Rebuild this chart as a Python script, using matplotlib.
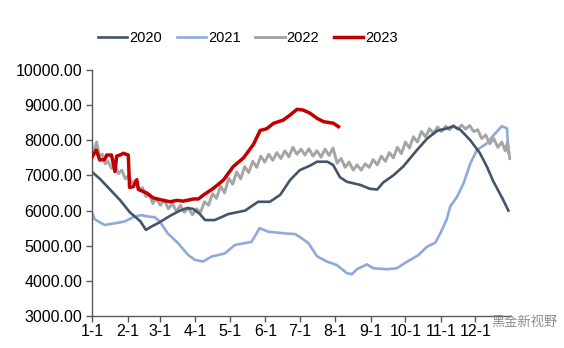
import matplotlib
matplotlib.use("Agg")
import matplotlib.pyplot as plt
import numpy as np

plt.rcParams['font.family'] = ['Liberation Sans', 'DejaVu Sans']

# ---- data (day of year, value) ----
days_2020 = [0, 7, 15.7, 24.4, 33, 42, 47, 52, 57.5, 68, 76.7, 82.8, 88, 94, 98.5, 107, 118.6,
             133.4, 144.7, 155, 164, 172.6, 181, 190, 196, 205, 210, 216, 222, 233.7, 242,
             248.5, 253.7, 262.4, 271, 283, 292, 300.8, 309.5, 314.7, 320.8, 329.6, 338,
             344, 349.6, 357.5, 362.7]
vals_2020 = [7100, 6900, 6600, 6300, 5950, 5700, 5450, 5550, 5640, 5850, 6000, 6070, 6050,
             5900, 5730, 5730, 5900, 6000, 6250, 6250, 6450, 6870, 7150, 7280, 7390, 7390,
             7300, 6950, 6820, 6730, 6620, 6600, 6800, 7000, 7250, 7720, 8050, 8270, 8340,
             8400, 8300, 8000, 7630, 7250, 6830, 6350, 6000]

days_2021 = [0, 2.4, 11, 20, 28.5, 37, 43, 49, 54.7, 59, 66, 75, 83.7, 89.5, 96.8, 104,
             115.7, 124.4, 139, 146, 153.4, 168, 177, 182.8, 188.6, 196, 204.6, 213.3, 222,
             226.4, 230.8, 239.5, 245, 257, 265.6, 274.4, 284.5, 291.8, 299, 303.4, 309,
             312, 318, 323.7, 329.6, 335.4, 344, 350, 357, 361.5, 362.7]
vals_2021 = [5950, 5750, 5590, 5640, 5690, 5830, 5870, 5830, 5810, 5690, 5350, 5070, 4740,
             4600, 4550, 4690, 4780, 5020, 5110, 5500, 5400, 5350, 5330, 5210, 5070, 4700,
             4550, 4450, 4220, 4190, 4330, 4470, 4360, 4330, 4360, 4545, 4736, 4970, 5085,
             5350, 5750, 6110, 6395, 6775, 7345, 7724, 7914, 8150, 8400, 8340, 7650]

days_2022 = [0, 2, 4, 6.5, 9, 11.5, 14, 17, 20, 23, 26, 29, 32, 35, 38, 41, 44, 47, 50, 53,
             56, 59.5, 63, 66.5, 70, 73.5, 77, 80.5, 84, 87.5, 91, 94.5, 98, 101.5, 105,
             108.5, 112, 115.5, 119, 122.5, 126, 129.5, 133, 136.5, 140, 143.5, 147, 150.5,
             154, 157.5, 161, 164.5, 168, 171.5, 175, 178.5, 182, 185.5, 189, 192.5, 196,
             199.5, 203, 206.5, 210, 213.5, 217, 220.5, 224, 227.5, 231, 234.5, 238, 241.5,
             245, 248.5, 252, 255.5, 259, 262.5, 266, 269.5, 273, 276.5, 280, 283.5, 287,
             290.5, 294, 297.5, 301, 304.5, 308, 311.5, 315, 318.5, 322, 325.5, 329, 332.5,
             336, 339.5, 343, 346.5, 350, 353.5, 357, 360, 362, 364]
vals_2022 = [7600, 7750, 7950, 7550, 7600, 7330, 7400, 7200, 7300, 7050, 7150, 6900, 7000,
             6780, 6850, 6600, 6650, 6400, 6450, 6200, 6350, 6150, 6300, 6050, 6200, 5980,
             6150, 5950, 6080, 5880, 6050, 5950, 6250, 6150, 6480, 6350, 6700, 6500, 6920,
             6750, 7100, 6900, 7250, 7080, 7400, 7230, 7550, 7380, 7600, 7430, 7650, 7480,
             7700, 7530, 7800, 7600, 7750, 7580, 7760, 7550, 7700, 7520, 7750, 7570, 7780,
             7350, 7480, 7230, 7380, 7150, 7300, 7150, 7330, 7230, 7450, 7300, 7550, 7400,
             7650, 7500, 7800, 7620, 7950, 7780, 8100, 7950, 8250, 8100, 8330, 8200, 8380,
             8250, 8400, 8300, 8420, 8320, 8430, 8320, 8420, 8250, 8300, 8050, 8150, 7900,
             8050, 7800, 7950, 7700, 7950, 7480]

days_2023 = [0, 3.7, 6.7, 11, 12.8, 17, 20, 21.5, 24.4, 27.3, 31.6, 32.7, 36, 39, 40.4,
             47.7, 53.4, 60.8, 68, 73.8, 79.6, 88.3, 92.6, 97, 105.8, 114.5, 123, 132,
             140.6, 146.5, 152.3, 158, 166.8, 172.6, 178.5, 184, 190, 196, 201.7, 207.5,
             210.4, 214.7]
vals_2023 = [7520, 7720, 7440, 7450, 7580, 7580, 7110, 7550, 7580, 7630, 7580, 6660, 6680,
             6880, 6600, 6500, 6360, 6300, 6250, 6290, 6270, 6330, 6330, 6440, 6635, 6870,
             7250, 7500, 7880, 8280, 8330, 8480, 8578, 8720, 8880, 8860, 8770, 8626, 8530,
             8500, 8484, 8388]

month_days = [0, 31, 59, 90, 120, 151, 181, 212, 243, 273, 304, 334]
month_labels = ['1-1', '2-1', '3-1', '4-1', '5-1', '6-1', '7-1', '8-1', '9-1', '10-1',
                '11-1', '12-1']
y_ticks = [3000, 4000, 5000, 6000, 7000, 8000, 9000, 10000]

fig = plt.figure(figsize=(5.64, 3.48), dpi=100)
ax = fig.add_axes([92 / 564, 1 - 316 / 348, (511 - 92) / 564, (316 - 70) / 348])

ax.plot(days_2020, vals_2020, color='#44546A', lw=1.9, label='2020', zorder=3)
ax.plot(days_2021, vals_2021, color='#8EAADB', lw=1.9, label='2021', zorder=2)
ax.plot(days_2022, vals_2022, color='#A5A5A5', lw=2.1, label='2022', zorder=2)
ax.plot(days_2023, vals_2023, color='#C00000', lw=2.5, label='2023', zorder=4)

ax.set_xlim(0, 365)
ax.set_ylim(3000, 10000)
ax.set_xticks(month_days)
ax.set_xticklabels(month_labels)
ax.set_yticks(y_ticks)
ax.set_yticklabels([f"{v:.2f}" for v in y_ticks])

for s in ['top', 'right']:
    ax.spines[s].set_visible(False)
for s in ['left', 'bottom']:
    ax.spines[s].set_color('#595959')
    ax.spines[s].set_linewidth(1.0)
ax.tick_params(axis='both', colors='#595959', labelcolor='black', labelsize=11.5,
               direction='out', length=4, width=1.0)
ax.tick_params(axis='x', pad=2)
ax.tick_params(axis='y', pad=3)

leg = fig.legend(loc='center', bbox_to_anchor=(248 / 564, 1 - 38 / 348), ncol=4,
                 frameon=False, fontsize=10.5, handlelength=2.0, handletextpad=0.15,
                 columnspacing=1.0)

# watermark
fig.text(524 / 564, 1 - 322 / 348, '黑金新视野', fontsize=9.5, color='#8c8c8c',
         ha='center', va='center', family=['Noto Sans CJK SC', 'DejaVu Sans'])

fig.savefig('out.png', dpi=100)
